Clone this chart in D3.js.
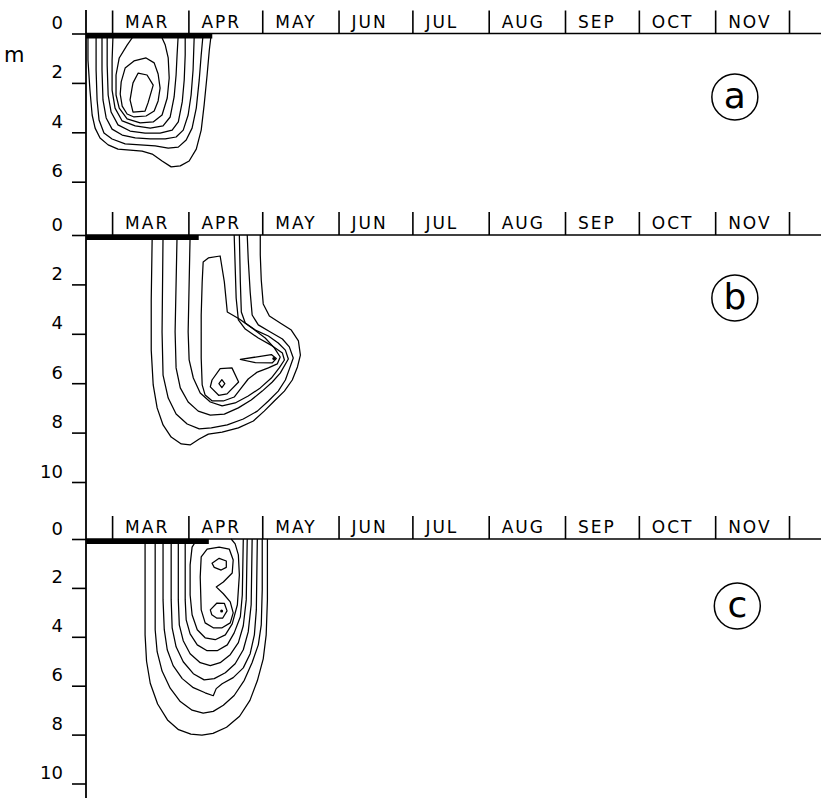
<!DOCTYPE html>
<html>
<head>
<meta charset="utf-8">
<script src="https://cdn.jsdelivr.net/npm/d3@7"></script>
<style>
  body { margin: 0; background: #fff; }
  svg { display: block; }
</style>
</head>
<body>
<script>
// day of year (non-leap) where each month starts, and month names
const monthStarts = [59, 90, 120, 151, 181, 212, 243, 273, 304, 334]
const monthNames = ['MAR', 'APR', 'MAY', 'JUN', 'JUL', 'AUG', 'SEP', 'OCT', 'NOV']
const panelNames = ['a', 'b', 'c']
const depthTicks = [[0, 2, 4, 6], [0, 2, 4, 6, 8, 10], [0, 2, 4, 6, 8, 10]]
// end of the heavy bar on the surface (day of year)
const iceEnd = [99.7, 94.2, 98.3]
// where the circled letter sits [day, depth]
const labelAt = [[312, 2.57], [312, 2.55], [313, 2.74]]

// contour lines as [day of year, depth m]; lines that start at depth 0 are open at the surface
const contoursA = [
  [[49.2,0],[49.2,1.07],[50.0,2.29],[50.9,3.30],[52.1,3.83],[54.1,4.23],[57.4,4.51],[61.4,4.68],[66.3,4.72],[71.2,4.76],[75.3,4.88],[79.3,5.16],[83.0,5.40],[86.7,5.36],[90.3,5.16],[93.2,4.68],[95.2,3.91],[96.4,2.89],[97.6,1.68],[98.5,0.67],[99.3,0]],
  [[52.5,0],[52.5,1.48],[52.9,2.69],[53.7,3.50],[55.7,4.03],[59.0,4.27],[64.3,4.47],[70.4,4.51],[76.5,4.55],[81.8,4.64],[85.9,4.60],[89.1,4.31],[91.5,3.83],[93.2,3.02],[94.4,1.88],[95.2,0.87],[96.0,0]],
  [[54.9,0],[54.9,1.48],[55.3,2.69],[56.6,3.42],[59.0,3.87],[63.1,4.11],[68.4,4.23],[74.5,4.27],[80.6,4.27],[85.0,4.19],[87.9,3.91],[89.9,3.30],[91.1,2.49],[91.9,1.48],[92.4,0]],
  [[57.0,0],[57.0,1.28],[57.4,2.49],[58.6,3.18],[61.4,3.70],[66.3,3.95],[72.4,4.03],[78.5,4.03],[83.4,3.91],[85.9,3.58],[87.5,2.77],[88.3,1.88],[88.7,0.87],[88.7,0]],
  [[59.4,0],[59.0,1.07],[59.0,2.29],[60.2,3.02],[63.1,3.54],[68.4,3.74],[74.5,3.83],[79.7,3.74],[82.6,3.38],[84.2,2.57],[85.0,1.68],[85.4,0.87],[85.9,0]],
  [[68.4,0],[65.1,0.47],[61.9,0.99],[60.6,1.68],[60.6,2.49],[61.9,3.02],[65.1,3.46],[70.4,3.62],[75.7,3.58],[79.3,3.30],[81.4,2.61],[82.2,1.80],[81.8,0.99],[80.6,0.47],[78.5,0]],
  [[62.7,1.96],[64.3,1.40],[67.9,1.11],[72.8,0.99],[76.1,1.19],[77.7,1.64],[78.5,2.21],[77.7,2.73],[76.1,3.14],[72.8,3.34],[67.9,3.38],[65.1,3.26],[63.1,2.94],[62.3,2.45]],
  [[67.5,2.00],[69.6,1.60],[73.2,1.68],[75.7,2.09],[73.6,2.81],[72.4,3.14],[67.5,3.18],[66.3,2.69],[67.1,2.21]]
]

const contoursB = [
  [[75.3,0],[74.9,2.63],[74.9,4.66],[75.7,6.07],[77.3,7.00],[79.7,7.69],[83.0,8.18],[87.1,8.46],[90.7,8.50],[94.4,8.26],[98.1,8.06],[103.7,7.98],[110.3,7.81],[116.4,7.53],[120.8,7.13],[124.9,6.72],[129.0,6.32],[132.2,5.87],[134.3,5.34],[135.5,4.86],[134.7,4.29],[131.8,3.85],[127.3,3.56],[122.9,3.28],[120.4,2.79],[119.6,1.82],[119.2,0.81],[119.2,0]],
  [[79.7,0],[79.3,3.93],[79.7,5.67],[81.8,6.60],[85.0,7.25],[89.5,7.65],[94.4,7.85],[99.3,7.81],[105.8,7.69],[112.3,7.45],[118.0,7.13],[122.5,6.72],[126.5,6.32],[129.4,5.87],[131.0,5.43],[132.6,4.98],[131.0,4.53],[128.2,4.21],[123.3,3.93],[118.4,3.64],[115.9,3.24],[115.1,2.31],[114.3,0.97],[113.9,0]],
  [[85.4,0],[84.6,3.93],[85.0,5.38],[86.7,6.19],[89.9,6.76],[94.0,7.13],[98.9,7.29],[104.6,7.25],[110.3,7.00],[115.5,6.68],[120.0,6.32],[124.1,5.95],[127.3,5.59],[130.6,5.02],[129.4,4.66],[126.5,4.37],[122.5,4.09],[117.2,3.85],[113.1,3.56],[111.5,3.12],[111.1,1.90],[110.7,0]],
  [[90.7,0],[89.9,3.93],[90.3,5.06],[92.0,5.79],[94.8,6.40],[98.9,6.76],[103.7,6.92],[109.0,6.80],[114.3,6.52],[119.2,6.19],[123.7,5.79],[126.9,5.38],[129.0,5.06],[128.2,4.78],[124.1,4.49],[118.4,4.17],[113.1,3.81],[110.3,3.44],[109.4,2.55],[108.6,0]],
  [[96.0,1.09],[98.1,0.93],[102.9,0.85],[104.6,1.90],[105.8,3.12],[110.7,3.40],[116.4,3.81],[121.2,4.17],[124.9,4.57],[127.3,4.94],[126.1,5.22],[122.5,5.38],[118.0,5.55],[114.3,5.83],[111.5,6.19],[108.6,6.56],[104.2,6.72],[99.7,6.72],[96.8,6.48],[95.6,6.07],[95.2,4.98],[95.2,3.24],[95.6,1.90]],
  [[111.1,5.04],[123.7,4.84],[125.7,5.00],[124.1,5.18],[117.2,5.17]],
  [[99.6,5.87],[102.9,5.41],[107.7,5.38],[110.4,5.95],[105.7,6.43],[102.3,6.49],[98.9,6.15]],
  [[102.4,6.02],[103.6,5.86],[104.8,6.02],[103.6,6.18]]
]

const contoursC = [
  [[72.4,0],[72.4,2.49],[72.4,3.92],[73.0,5.00],[74.5,5.90],[77.5,6.75],[81.5,7.40],[86.0,7.80],[91.0,7.98],[95.5,8.02],[100.0,7.95],[105.5,7.70],[110.8,7.25],[115.0,6.60],[118.0,5.80],[120.4,4.90],[121.6,3.92],[122.1,2.49],[122.1,0]],
  [[76.5,0],[76.5,2.49],[76.5,3.71],[77.3,4.61],[79.3,5.40],[82.6,6.10],[86.7,6.65],[91.5,7.00],[96.0,7.12],[100.1,7.05],[104.2,6.80],[108.6,6.40],[112.7,5.78],[115.9,5.05],[118.4,4.33],[119.6,3.51],[120.0,2.08],[120.0,0]],
  [[79.7,0],[79.7,2.49],[80.2,3.71],[81.4,4.53],[83.8,5.18],[87.5,5.71],[92.0,6.08],[96.8,6.29],[100.1,6.41],[101.3,6.12],[103.7,5.92],[108.2,5.67],[112.3,5.27],[115.1,4.69],[116.8,3.92],[117.6,2.90],[118.0,0]],
  [[83.0,0],[83.0,2.49],[83.4,3.63],[85.0,4.41],[87.9,5.02],[92.0,5.51],[96.4,5.76],[100.5,5.71],[105.0,5.47],[109.0,5.10],[112.3,4.53],[114.3,3.80],[115.5,2.69],[115.9,0]],
  [[85.9,0],[85.9,2.49],[86.3,3.51],[87.9,4.16],[90.7,4.69],[94.8,5.06],[98.9,5.18],[102.9,5.06],[107.0,4.73],[110.3,4.24],[112.3,3.55],[113.5,2.49],[113.9,0]],
  [[88.7,0],[88.7,2.49],[89.1,3.31],[90.7,3.88],[93.6,4.33],[97.6,4.57],[101.7,4.57],[105.8,4.33],[108.6,3.84],[111.1,3.18],[111.9,2.29],[112.3,0]],
  [[93.6,0],[91.5,0.33],[90.7,1.06],[90.7,2.29],[91.5,3.10],[93.6,3.71],[96.8,4.04],[100.9,4.12],[105.0,3.92],[107.8,3.47],[109.9,2.69],[110.7,1.47],[110.3,0.65],[109.0,0.20],[107.4,0]],
  [[95.2,0.73],[97.6,0.41],[102.5,0.33],[106.6,0.41],[108.2,0.86],[107.8,1.39],[104.2,1.76],[101.3,1.96],[104.2,2.24],[107.0,2.57],[108.2,3.02],[107.0,3.43],[103.7,3.63],[100.1,3.63],[96.8,3.43],[95.2,2.90],[94.8,1.55]],
  [[99.6,0.99],[102.5,0.79],[105.4,0.90],[105.4,1.16],[103.3,1.27],[100.5,1.16]],
  [[98.9,2.90],[101.6,2.62],[104.6,2.63],[105.7,2.94],[103.9,3.24],[101.6,3.24],[99.5,3.10]]
]
const contours = [contoursA, contoursB, contoursC]
// single-point maxima drawn as dots
const peaks = [[], [[124.7, 5.0]], [[103.5, 2.94]]]

const width = 821
const height = 798
const axisX = 86

const x = d3.scaleLinear([48.4, 347], [axisX, width])

const panels = [
  { top: 33.5, maxDepth: 7, ppm: 24.7 },
  { top: 235, maxDepth: 11.2, ppm: 24.7 },
  { top: 539, maxDepth: 10.7, ppm: 24.45 }
]

const svg = d3
  .select('body')
  .append('svg')
  .attr('width', width)
  .attr('height', height)
  .attr('font-family', '"DejaVu Sans", sans-serif')

// depth axis, one line through all three panels
svg
  .append('line')
  .attr('x1', axisX)
  .attr('x2', axisX)
  .attr('y1', 10)
  .attr('y2', height)
  .attr('stroke', '#000')
  .attr('stroke-width', 1.8)

svg.append('text').attr('x', 4).attr('y', 62).attr('font-size', 21).text('m')

panels.forEach((p, i) => {
  const y = d3.scaleLinear([0, p.maxDepth], [p.top, p.top + p.maxDepth * p.ppm])
  const g = svg.append('g')

  // month separators above the surface line
  g.append('g')
    .attr('transform', `translate(0,${y(0)})`)
    .call(d3.axisTop(x).tickValues(monthStarts).tickSize(23).tickFormat(''))
    .call(s => s.select('.domain').remove())
    .selectAll('line')
    .attr('stroke-width', 1.6)

  g.append('line')
    .attr('x1', axisX)
    .attr('x2', width)
    .attr('y1', y(0))
    .attr('y2', y(0))
    .attr('stroke', '#000')
    .attr('stroke-width', 1.6)

  g.append('g')
    .selectAll('text')
    .data(monthNames)
    .join('text')
    .attr('x', (d, j) => x(monthStarts[j]) + 13)
    .attr('y', y(0) - 6)
    .attr('font-size', 17)
    .attr('letter-spacing', 2)
    .text(d => d)

  // depth ticks
  g.append('g')
    .attr('transform', `translate(${axisX},0)`)
    .call(d3.axisLeft(y).tickValues(depthTicks[i]).tickFormat(d3.format('d')).tickSize(14).tickPadding(9))
    .call(s => s.select('.domain').remove())
    .call(s => s.selectAll('line').attr('stroke-width', 1.6))
    .call(s =>
      s.selectAll('text')
        .attr('dy', -5)
        .attr('font-size', 18)
        .attr('font-family', '"DejaVu Sans", sans-serif')
    )

  const line = d3.line().x(d => x(d[0])).y(d => y(d[1]))

  g.append('g')
    .attr('fill', 'none')
    .attr('stroke', '#000')
    .attr('stroke-width', 1.25)
    .attr('stroke-linejoin', 'round')
    .selectAll('path')
    .data(contours[i])
    .join('path')
    .attr('d', d => line.curve(d[0][1] > 0 ? d3.curveLinearClosed : d3.curveLinear)(d))

  g.append('g')
    .selectAll('circle')
    .data(peaks[i])
    .join('circle')
    .attr('cx', d => x(d[0]))
    .attr('cy', d => y(d[1]))
    .attr('r', 1.5)

  // heavy bar on the surface
  g.append('rect')
    .attr('x', axisX)
    .attr('y', y(0))
    .attr('width', x(iceEnd[i]) - axisX)
    .attr('height', 5)

  const lx = x(labelAt[i][0])
  const ly = y(labelAt[i][1])
  g.append('circle')
    .attr('cx', lx)
    .attr('cy', ly)
    .attr('r', 23)
    .attr('fill', 'none')
    .attr('stroke', '#000')
    .attr('stroke-width', 1.5)
  g.append('text')
    .attr('x', lx)
    .attr('y', ly)
    .attr('dy', '0.3em')
    .attr('text-anchor', 'middle')
    .attr('font-size', 36)
    .text(panelNames[i])
})
</script>
</body>
</html>
